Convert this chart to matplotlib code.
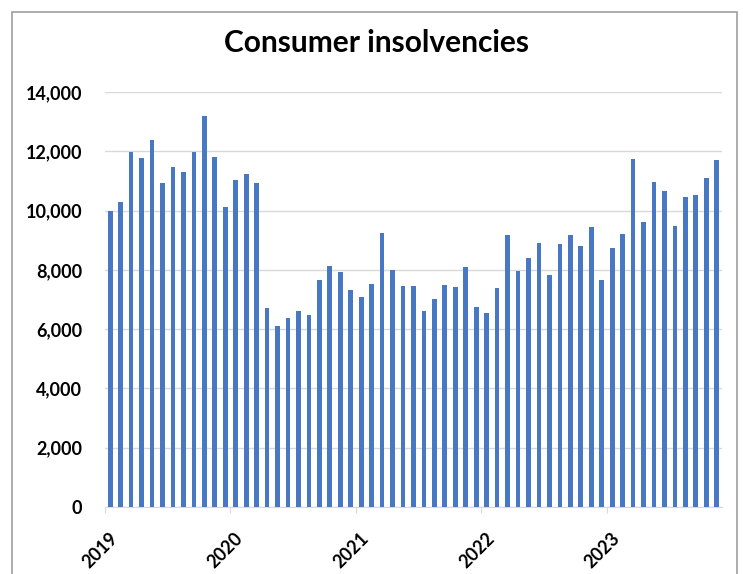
import matplotlib.pyplot as plt
import matplotlib.patches as patches
import matplotlib.transforms as mtransforms
from matplotlib.ticker import FuncFormatter
import numpy as np

# Monthly consumer insolvencies, Jan 2019 - Nov 2023
years = ['2019', '2020', '2021', '2022', '2023']
values_2019 = [10000, 10300, 11970, 11780, 12380, 10920, 11480, 11290, 11960, 13200, 11820, 10130]
values_2020 = [11030, 11240, 10940, 6700, 6110, 6360, 6600, 6470, 7660, 8140, 7930, 7320]
values_2021 = [7090, 7510, 9240, 8000, 7440, 7440, 6610, 7020, 7490, 7410, 8090, 6740]
values_2022 = [6560, 7380, 9180, 7960, 8410, 8900, 7830, 8860, 9160, 8820, 9430, 7660]
values_2023 = [8730, 9210, 11750, 9610, 10960, 10650, 9480, 10460, 10530, 11090, 11690]

values = values_2019 + values_2020 + values_2021 + values_2022 + values_2023
x = np.arange(len(values))

plt.rcParams['font.family'] = ['Lato', 'DejaVu Sans']

fig = plt.figure(figsize=(7.43, 5.74), dpi=100)
ax = fig.add_axes([0.1413, 0.1167, 0.8304, 0.723])

ax.bar(x, values, width=0.45, color='#4878C4', zorder=3)

# Frame around the chart area
fig.patches.append(patches.Rectangle((12 / 743, -0.05), 725 / 743, 1 - 12 / 574 + 0.05,
                                     transform=fig.transFigure, fill=False,
                                     edgecolor='#a6a6a6', linewidth=1.3))

ax.set_xlim(-0.5, len(values) - 0.5)
ax.set_ylim(0, 14000)
ax.set_yticks(np.arange(0, 14001, 2000))
ax.yaxis.set_major_formatter(FuncFormatter(lambda v, p: f'{int(v):,}'))
ax.grid(axis='y', color='#d9d9d9', linewidth=1, zorder=0)

# Year ticks sit on the boundary before each January
ax.set_xticks([i * 12 - 0.5 for i in range(len(years))])
ax.set_xticklabels(years, rotation=45, ha='right', va='top', rotation_mode='anchor',
                   fontsize=13, fontweight='bold')
ax.tick_params(axis='x', length=4, color='#d9d9d9', pad=12)
ax.tick_params(axis='y', length=0, pad=16.5, labelsize=13)
for lbl in ax.get_yticklabels():
    lbl.set_fontweight('bold')

# nudge the rotated year labels a little to the right
shift = mtransforms.ScaledTranslation(4 / 100, 0, fig.dpi_scale_trans)
for lbl in ax.get_xticklabels():
    lbl.set_transform(lbl.get_transform() + shift)

for side in ['top', 'right', 'left']:
    ax.spines[side].set_visible(False)
ax.spines['bottom'].set_color('#d9d9d9')

fig.text(0.507, 0.925, 'Consumer insolvencies', ha='center', va='center',
         fontsize=21.5, fontweight='bold')

plt.savefig('out.png', dpi=100)
